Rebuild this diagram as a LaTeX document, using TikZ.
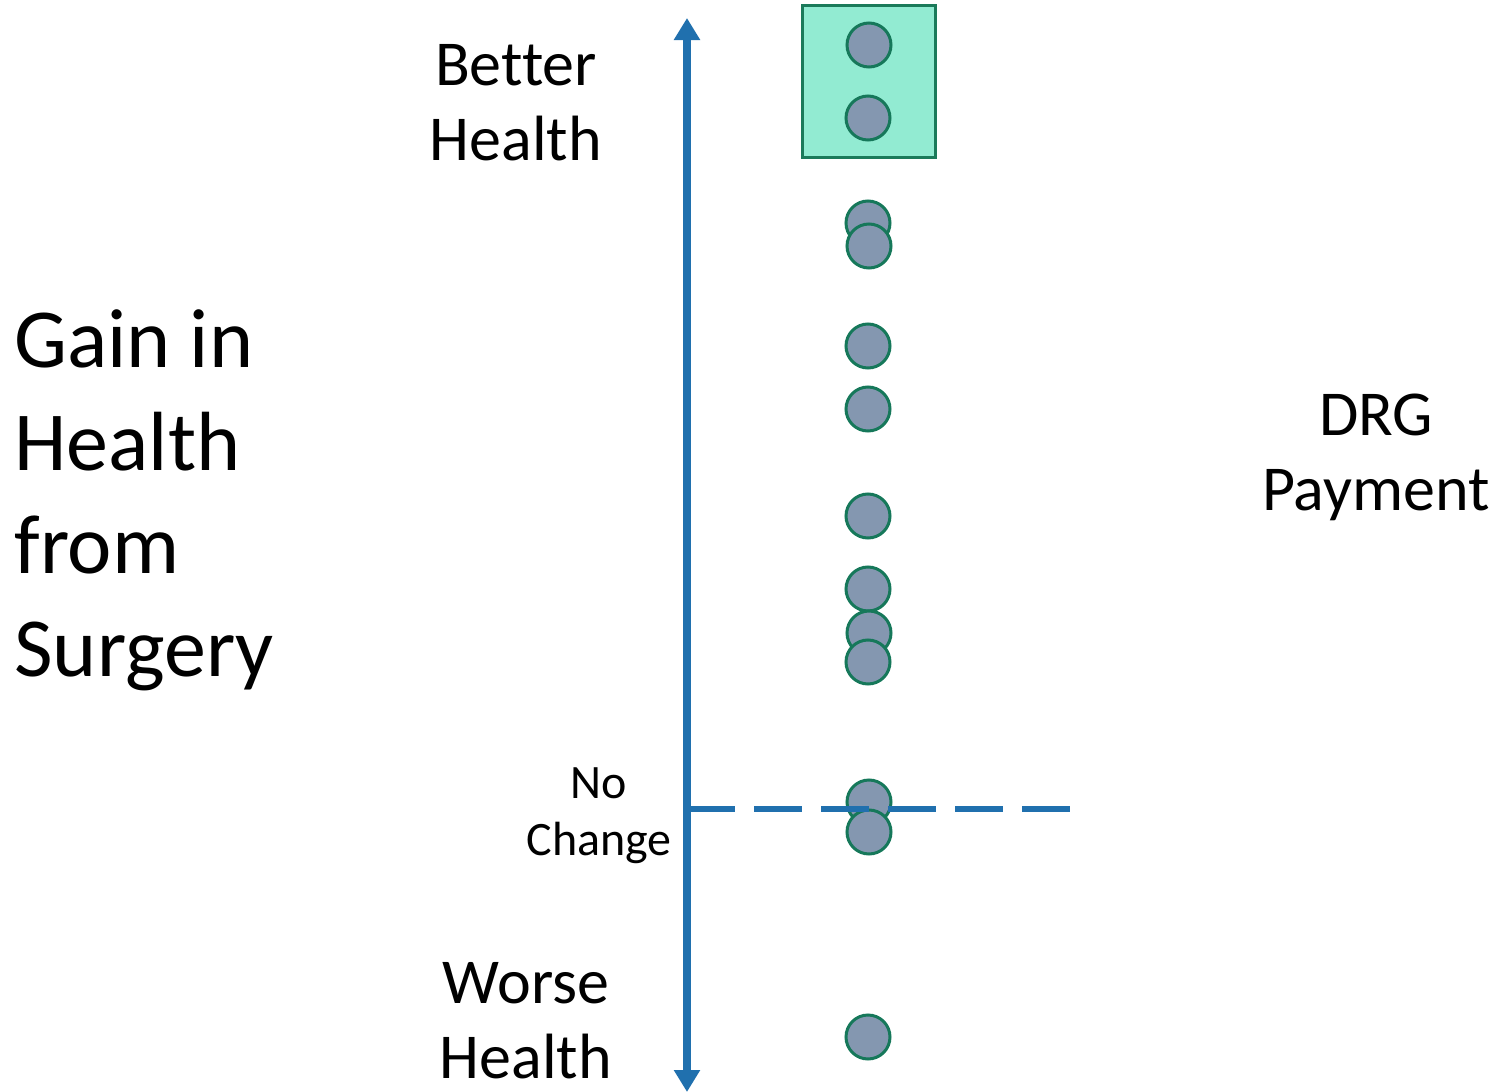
\documentclass[tikz,border=0pt]{standalone}
\usepackage{fontspec}
\setmainfont[Ligatures=NoCommon]{Carlito}
\usetikzlibrary{arrows.meta}
\definecolor{axisblue}{HTML}{2070AE}
\definecolor{boxfill}{HTML}{92EBD2}
\definecolor{boxline}{HTML}{1B7A5A}
\definecolor{dotfill}{HTML}{8497B0}
\definecolor{dotline}{HTML}{16785A}
\tikzset{
  dot/.style={circle,draw=dotline,fill=dotfill,line width=1.5pt,minimum size=22pt,inner sep=0pt},
  bigtxt/.style={font=\fontsize{42}{51.5}\selectfont,align=left,anchor=base west,inner sep=0pt},
  midtxt/.style={font=\fontsize{32}{37.5}\selectfont,align=center,anchor=base,inner sep=0pt},
  smalltxt/.style={font=\fontsize{24}{28.5}\selectfont,align=center,anchor=base,inner sep=0pt},
  axisline/.style={draw=axisblue,line width=3.8pt,{Triangle[length=11pt,width=12.5pt]}-{Triangle[length=11pt,width=12.5pt]}},
  zeroline/.style={draw=axisblue,line width=3.3pt,dash pattern=on 24pt off 9.5pt}
}
\begin{document}
\begin{tikzpicture}[x=0.5pt,y=-0.5pt]
\useasboundingbox (0,0) rectangle (1496,1092);
% labels (anchored at the baseline of the last line)
\node[bigtxt] (gain) at (14,676) {Gain in\\Health\\from\\Surgery};
\node[midtxt] (better) at (516,160) {Better\\Health};
\node[midtxt] (worse) at (526,1078) {Worse\\Health};
\node[smalltxt] (nochange) at (599,855) {No\\Change};
\node[midtxt] (drg) at (1376,510) {DRG\\Payment};
% highlighted box
\node[draw=boxline,fill=boxfill,line width=1.5pt,minimum width=66.5pt,minimum height=76pt,inner sep=0pt] (box) at (868.5,81) {};
% axis
\coordinate (top) at (687,18);
\coordinate (bot) at (687,1092);
\draw[axisline] (bot) -- (top);
% dots
\node[dot] (c1) at (869,45) {};
\node[dot] (c2) at (868,118) {};
\node[dot] (c3) at (868,223) {};
\node[dot] (c4) at (869,246) {};
\node[dot] (c5) at (868,346) {};
\node[dot] (c6) at (868,409) {};
\node[dot] (c7) at (868,516) {};
\node[dot] (c8) at (868,589) {};
\node[dot] (c9) at (869,633) {};
\node[dot] (c10) at (868,662) {};
\node[dot] (c11) at (869,802) {};
\node[dot] (c12) at (869,832) {};
\node[dot] (c13) at (868,1037) {};
% zero line
\coordinate (z0) at (687,809);
\coordinate (z1) at (1070,809);
\draw[zeroline] (z0) -- (z1);
\end{tikzpicture}
\end{document}
